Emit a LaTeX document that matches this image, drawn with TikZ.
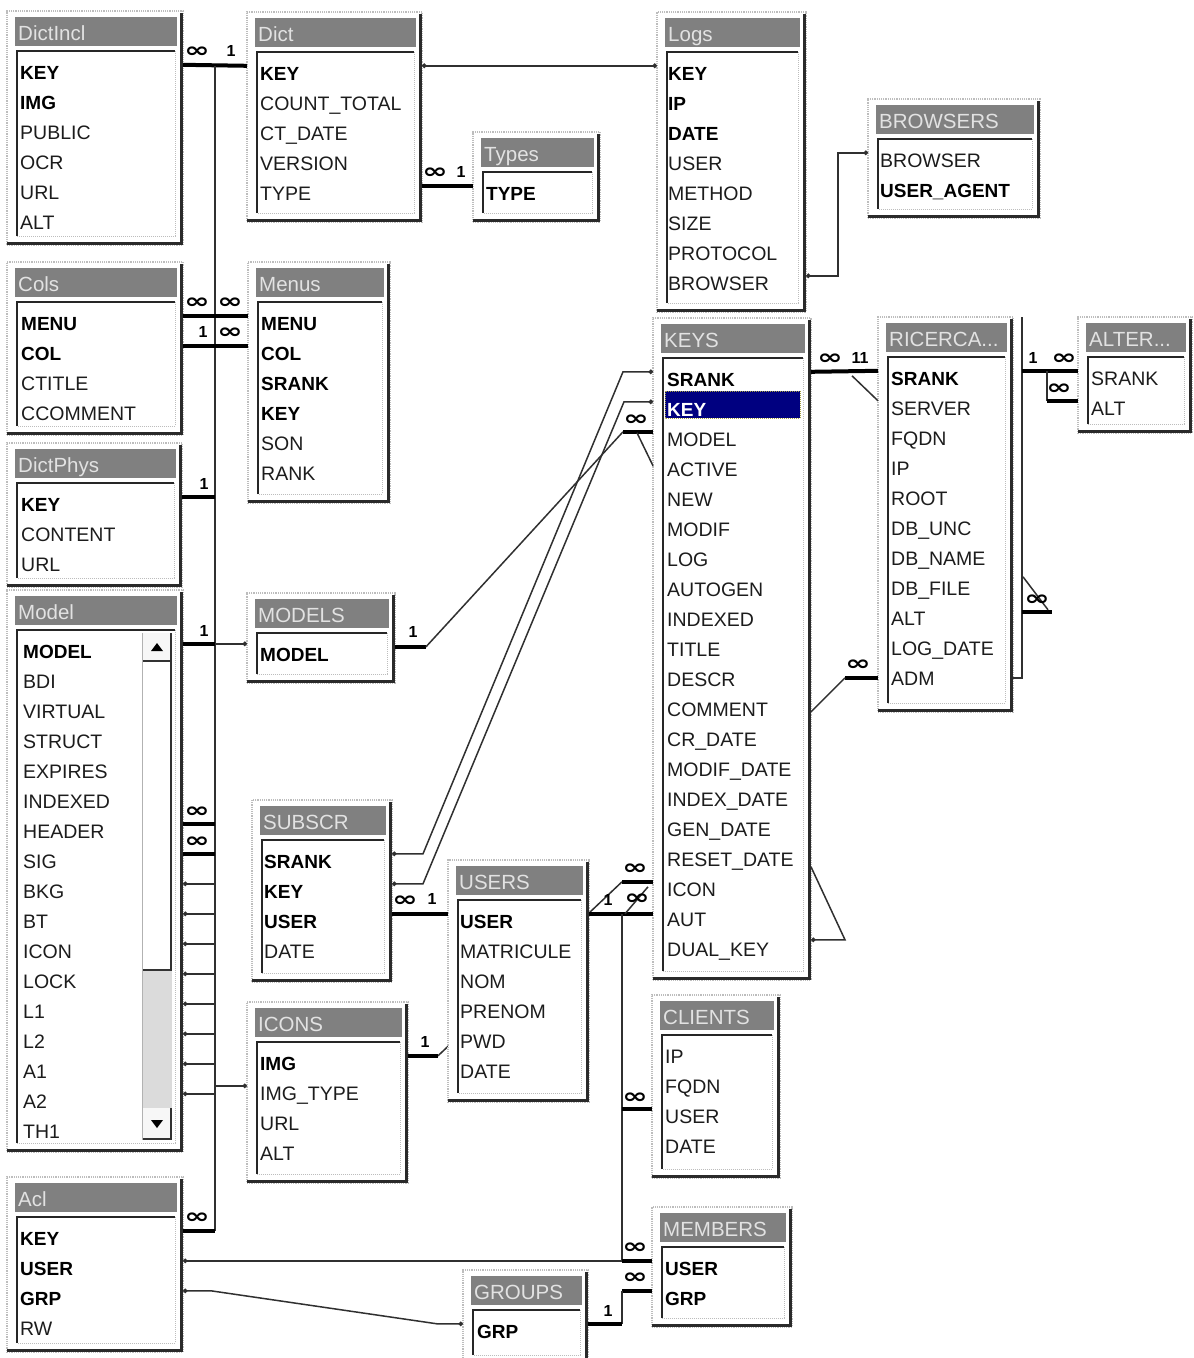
\documentclass[tikz,border=0pt]{standalone}
\usepackage{fontspec}
\usepackage{graphicx}
\newfontfamily\lib{Liberation Sans}
\newfontfamily\dvs{DejaVu Sans}
\usetikzlibrary{calc,arrows.meta}
\definecolor{shd}{HTML}{2A2A2A}
\definecolor{tbarc}{HTML}{808080}
\definecolor{ttlc}{HTML}{E2E2E2}
\definecolor{fldc}{HTML}{1C1C1C}
\definecolor{lnc}{HTML}{303030}
\definecolor{navyc}{HTML}{000080}
\definecolor{framec}{HTML}{BDBDBD}
\pgfdeclarelayer{bg}
\pgfdeclarelayer{front}
\pgfsetlayers{bg,main,front}
\tikzset{
 tframe/.style={draw=framec, densely dotted, line width=1.2pt, fill=white, inner sep=0pt, outer sep=0pt},
 tshadow/.style={draw=shd, line width=2.8pt},
 ttitle/.style={anchor=base west, inner sep=0pt, text=ttlc, font=\lib\fontsize{20.5pt}{21pt}\selectfont},
 fld/.style={anchor=base west, inner sep=0pt, text height=14pt, text depth=0pt, text=fldc},
 fr/.style={font=\lib\fontsize{19.5pt}{20pt}\selectfont},
 fb/.style={font=\lib\bfseries\fontsize{19pt}{20pt}\selectfont, text=black},
 fk/.style={font=\lib\bfseries\fontsize{19pt}{20pt}\selectfont, text=white},
 conn/.style={draw=lnc, line width=1.5pt},
 bar/.style={draw=black, line width=4pt},
 dd/.style={{Circle[length=4.5pt]}-{Circle[length=4.5pt]}},
 de/.style={-{Circle[length=4.5pt]}},
 ds/.style={{Circle[length=4.5pt]}-},
 infl/.style={inner sep=0pt, font=\dvs\bfseries\fontsize{21pt}{21pt}\selectfont},
 onel/.style={inner sep=0pt, font=\lib\bfseries\fontsize{16pt}{16pt}\selectfont},
}
\newcommand\infsym{\scalebox{1.45}[1.0]{∞}}
% name, x1, y1, x2, y2, title, text x, fields
\newcommand\mktable[8]{%
 \pgfmathsetmacro\tabw{#4-#2}%
 \pgfmathsetmacro\tabh{#5-#3}%
 \pgfmathsetmacro\tabfb{#3+68}%
 \node[tframe, anchor=north west, minimum width=\tabw pt, minimum height=\tabh pt] (#1) at (#2,#3) {};
 \fill[tbarc] (#2+8,#3+6) rectangle (#4-6,#3+35);
 \node[ttitle] (#1-t) at (#2+11,#3+29) {#6};
 \fill[white] (#2+10,#3+40) rectangle (#4-8,#5-9);
 \draw[framec, densely dotted, line width=1pt] (#4-8,#3+40) -- (#4-8,#5-9) -- (#2+10,#5-9);
 \draw[black!85, line width=2pt] (#2+10,#5-9) -- (#2+10,#3+40) -- (#4-8,#3+40);
 \draw[tshadow] (#4-1.4,#3+2) -- (#4-1.4,#5-1.4) -- (#2,#5-1.4);
 \begin{pgfonlayer}{front}
 \foreach \s/\t [count=\i] in {#8} {\node[fld,\s] (#1-\i) at (#7,\tabfb+30*\i-30) {\t};}
 \end{pgfonlayer}
}
\begin{document}
\begin{tikzpicture}[x=1pt,y=-1pt]
\useasboundingbox (0,0) rectangle (1194,1358);
\begin{pgfonlayer}{bg}
\fill[white] (0,0) rectangle (1194,1358);
\end{pgfonlayer}

% ---------------- tables
\mktable{dictincl}{7}{11}{183}{245}{DictIncl}{20}{fb/KEY,fb/IMG,fr/PUBLIC,fr/OCR,fr/URL,fr/ALT}
\mktable{dict}{247}{12}{422}{222}{Dict}{260}{fb/KEY,fr/COUNT\_TOTAL,fr/CT\_DATE,fr/VERSION,fr/TYPE}
\mktable{types}{473}{132}{600}{222}{Types}{486}{fb/TYPE}
\mktable{logs}{657}{12}{806}{312}{Logs}{668}{fb/KEY,fb/IP,fb/DATE,fr/USER,fr/METHOD,fr/SIZE,fr/PROTOCOL,fr/BROWSER}
\mktable{browsers}{868}{99}{1040}{218}{BROWSERS}{880}{fr/BROWSER,fb/USER\_AGENT}
\mktable{cols}{7}{262}{183}{435}{Cols}{21}{fb/MENU,fb/COL,fr/CTITLE,fr/CCOMMENT}
\mktable{menus}{248}{262}{390}{503}{Menus}{261}{fb/MENU,fb/COL,fb/SRANK,fb/KEY,fr/SON,fr/RANK}
\mktable{dictphys}{7}{443}{182}{587}{DictPhys}{21}{fb/KEY,fr/CONTENT,fr/URL}
\mktable{model}{7}{590}{183}{1152}{Model}{23}{fb/MODEL,fr/BDI,fr/VIRTUAL,fr/STRUCT,fr/EXPIRES,fr/INDEXED,fr/HEADER,fr/SIG,fr/BKG,fr/BT,fr/ICON,fr/LOCK,fr/L1,fr/L2,fr/A1,fr/A2,fr/TH1}
\mktable{models}{247}{593}{395}{683}{MODELS}{260}{fb/MODEL}
\mktable{subscr}{252}{800}{392}{982}{SUBSCR}{264}{fb/SRANK,fb/KEY,fb/USER,fr/DATE}
\mktable{users}{448}{860}{589}{1102}{USERS}{460}{fb/USER,fr/MATRICULE,fr/NOM,fr/PRENOM,fr/PWD,fr/DATE}
\mktable{icons}{247}{1002}{408}{1183}{ICONS}{260}{fb/IMG,fr/IMG\_TYPE,fr/URL,fr/ALT}
\mktable{keys}{653}{318}{811}{980}{KEYS}{667}{fb/SRANK,fk/KEY,fr/MODEL,fr/ACTIVE,fr/NEW,fr/MODIF,fr/LOG,fr/AUTOGEN,fr/INDEXED,fr/TITLE,fr/DESCR,fr/COMMENT,fr/CR\_DATE,fr/MODIF\_DATE,fr/INDEX\_DATE,fr/GEN\_DATE,fr/RESET\_DATE,fr/ICON,fr/AUT,fr/DUAL\_KEY}
\mktable{ricerca}{878}{317}{1013}{712}{RICERCA...}{891}{fb/SRANK,fr/SERVER,fr/FQDN,fr/IP,fr/ROOT,fr/DB\_UNC,fr/DB\_NAME,fr/DB\_FILE,fr/ALT,fr/LOG\_DATE,fr/ADM}
\mktable{alter}{1078}{317}{1192}{433}{ALTER...}{1091}{fr/SRANK,fr/ALT}
\mktable{clients}{652}{995}{780}{1178}{CLIENTS}{665}{fr/IP,fr/FQDN,fr/USER,fr/DATE}
\mktable{members}{652}{1207}{792}{1327}{MEMBERS}{665}{fb/USER,fb/GRP}
\mktable{groups}{463}{1270}{588}{1364}{GROUPS}{477}{fb/GRP}
\mktable{acl}{7}{1177}{183}{1352}{Acl}{20}{fb/KEY,fb/USER,fb/GRP,fr/RW}

% highlighted KEY row in KEYS
\fill[navyc] (665,391) rectangle (800,418);
\draw[yellow!60!black, densely dotted, line width=1pt] (665,391) rectangle (800,418);

% Model scroll bar
\fill[gray!28] (142,662) rectangle (172,1108);
\fill[white] (142,662) rectangle (172,970);
\draw[black!80, line width=1.5pt] (171,662) -- (171,970) -- (142,970);
\fill[gray!6] (142,633) rectangle (172,662);
\draw[black!80, line width=1.5pt] (171,633) -- (171,661) -- (142,661);
\fill[black] (157,643) -- (151,651) -- (163,651) -- cycle;
\fill[gray!6] (142,1108) rectangle (172,1140);
\draw[black!80, line width=1.5pt] (171,1108) -- (171,1139) -- (142,1139);
\fill[black] (157,1128) -- (151,1120) -- (163,1120) -- cycle;
\draw[gray!60, line width=0.8pt] (142,633) -- (142,1140);

% ---------------- connectors
\begin{pgfonlayer}{bg}
\draw[conn] ($(icons.east |- icons-1.north)+(30,0)$) -- ($(keys.west |- keys-18.north)+(-31,0)$);
\end{pgfonlayer}

\coordinate (bus) at (215,66);
\coordinate (ubus) at ($(keys.west |- users-1.north)+(-31,0)$);
\coordinate (rb) at ($(ricerca.north east)+(9,0)$);

\draw[bar] (dictincl.east |- dictincl-1.north) -- (dict.west |- dict-1.north);
\draw[conn] (bus) -- (bus |- acl-1.north);
\draw[conn,dd] (dict.east |- dict-1.north) -- (logs.west |- logs-1.north);
\draw[bar] (dict.east |- dict-5.north) -- (types.west |- types-1.north);
\draw[conn,dd] (logs.east |- logs-8.north) -- ++(32,0) |- (browsers.west |- browsers-1.north);
\draw[bar] (cols.east |- cols-1.north) -- (menus.west |- menus-1.north);
\draw[bar] (cols.east |- cols-2.north) -- (menus.west |- menus-2.north);
\draw[bar] (dictphys.east |- dictphys-1.north) -- (bus |- dictphys-1.north);
\draw[bar] (model.east |- model-1.north) -- (bus |- model-1.north);
\draw[conn,de] (bus |- model-1.north) -- (models.west |- model-1.north);
\draw[bar] (model.east |- model-7.north) -- (bus |- model-7.north);
\draw[bar] (model.east |- model-8.north) -- (bus |- model-8.north);
\foreach \i in {9,...,16} {\draw[conn,ds] (model.east |- model-\i.north) -- (bus |- model-\i.north);}
\draw[conn,de] (bus |- icons-2.north) -- (icons.west |- icons-2.north);
\draw[bar] (acl.east |- acl-1.north) -- (bus |- acl-1.north);
\draw[conn,ds] (acl.east |- acl-2.north) -- (ubus |- acl-2.north);
\draw[conn,dd] (acl.east |- acl-3.north) -- ++(28,0) -- ($(groups.west |- groups-1.north)+(-26,0)$) -- (groups.west |- groups-1.north);

% MODELS -> KEYS
\draw[bar] (models.east |- models-1.north) -- ++(31,0) coordinate (m1);
\draw[conn] (m1) -- ($(keys.west |- keys-3.north)+(-30,0)$) coordinate (k3);
\draw[bar] (k3) -- (keys.west |- keys-3.north);
\draw[conn] ($(k3)+(14,1)$) -- ($(keys.west |- keys-4.north)+(0,4)$);

% SUBSCR -> KEYS
\draw[conn,dd] (subscr.east |- subscr-1.north) -- ++(31,0) -- ($(keys.west |- keys-1.north)+(-30,0)$) -- (keys.west |- keys-1.north);
\draw[conn,dd] (subscr.east |- subscr-2.north) -- ++(31,0) -- ($(keys.west |- keys-2.north)+(-29,0)$) -- (keys.west |- keys-2.north);
\draw[bar] (subscr.east |- subscr-3.north) -- (users.west |- users-1.north);

% ICONS -> KEYS.ICON
\draw[bar] (icons.east |- icons-1.north) -- ++(30,0);
\draw[bar] ($(keys.west |- keys-18.north)+(-31,0)$) -- (keys.west |- keys-18.north);

% USERS bus
\draw[bar] (users.east |- users-1.north) -- (keys.west |- users-1.north);
\draw[conn] (ubus) -- (ubus |- members-1.north);
\draw[conn] ($(ubus)+(3,0)$) -- ($(keys.west |- keys-18.north)+(-5,5)$);
\draw[bar] (ubus |- clients-3.north) -- (clients.west |- clients-3.north);
\draw[bar] (ubus |- members-1.north) -- (members.west |- members-1.north);
\draw[bar] (ubus |- members-2.north) -- (members.west |- members-2.north);
\draw[conn] (ubus |- members-2.north) -- (ubus |- groups-1.north);
\draw[bar] (groups.east |- groups-1.north) -- (ubus |- groups-1.north);

% KEYS -> RICERCA
\draw[bar] (keys.east |- keys-1.north) -- (ricerca.west |- ricerca-1.north);
\draw[conn] ($(ricerca.west |- ricerca-1.north)+(-26,5)$) -- (ricerca.west |- ricerca-2.north);
\coordinate (adm) at ($(ricerca.west |- ricerca-11.north)+(0,7)$);
\draw[bar] (adm) -- ++(-33,0) coordinate (adm2);
\draw[conn] (adm2) -- ($(keys.east |- keys-12.north)+(0,10)$);
\draw[conn,de] ($(keys.east |- keys-17.north)+(0,15)$) -- ($(keys.east |- keys-20.north)+(34,-2)$) -- ($(keys.east |- keys-20.north)+(0,-2)$);

% RICERCA -> ALTER
\draw[conn] (rb) -- ($(ricerca.east |- ricerca-11.north)+(9,7)$) -- ($(ricerca.east |- ricerca-11.north)+(0,7)$);
\draw[bar] (rb |- ricerca-1.north) -- (alter.west |- alter-1.north);
\draw[conn] ($(alter.west |- alter-1.north)+(-31,0)$) -- ($(alter.west |- alter-2.north)+(-31,0)$);
\draw[bar] ($(alter.west |- alter-2.north)+(-31,0)$) -- (alter.west |- alter-2.north);
\coordinate (rf) at ($(rb |- ricerca-8.north)+(0,31)$);
\draw[bar] (rf) -- ++(30,0);
\draw[conn] ($(rb |- ricerca-8.north)+(1,-4)$) -- ($(rf)+(26,-2)$);

% ---------------- cardinality labels
\foreach \p/\q [count=\n] in {197/52, 435/173, 197/303, 230/303, 230/333, 197/812, 197/842, 197/1218, 636/420, 405/901, 635/869, 637/899, 635/1098, 635/1248, 635/1278, 830/359, 858/665, 1064/359, 1059/389, 1037/600}
 {\node[infl] (inf-\n) at (\p,\q) {\infsym};}
\foreach \p/\q [count=\n] in {231/51, 461/172, 203/332, 204/484, 204/631, 413/632, 432/899, 425/1042, 608/900, 608/1311, 1033/358}
 {\node[onel] (one-\n) at (\p,\q) {1};}
\node[onel] (one-11b) at (860,358) {11};
\end{tikzpicture}
\end{document}
